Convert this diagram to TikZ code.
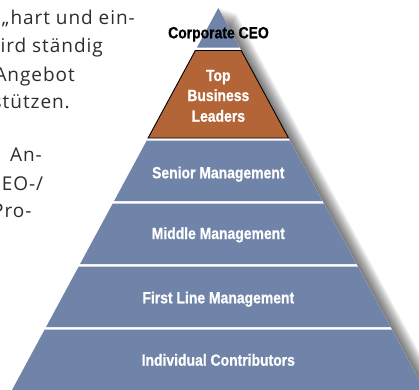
\documentclass[tikz,border=0pt]{standalone}
\usepackage{fontspec}
\newfontfamily\bodyfont[LetterSpace=5]{Open Sans}
\newfontfamily\pyrfont[FakeStretch=0.86, BoldFeatures={FakeBold=0.8}]{Liberation Sans}
\definecolor{pyrblue}{RGB}{111,132,168}
\definecolor{pyrorange}{RGB}{179,101,56}
\definecolor{bodytext}{RGB}{45,45,45}
\newcommand\pyrband[3]{%
  \path[#3] ({218.3-0.54*(#1-8)},#1) -- ({218.3+0.54*(#1-8)},#1)
    -- ({218.3+0.54*(#2-8)},#2) -- ({218.3-0.54*(#2-8)},#2) -- cycle;}
\tikzset{
  bodyline/.style={anchor=base east, inner sep=0pt,
    font=\bodyfont\fontsize{19}{19}\selectfont, text=bodytext},
  pyrlabel/.style={anchor=base, inner sep=0pt,
    font=\pyrfont\bfseries\fontsize{16.2}{16.2}\selectfont, text=white},
  blueband/.style={fill=pyrblue},
  orangeband/.style={fill=pyrorange, draw=black, line width=0.9pt, line join=miter},
  shadowlayer/.style={fill=black, opacity=0.04},
}
\begin{document}
\begin{tikzpicture}[x=1pt,y=-1pt]
\useasboundingbox (0,0) rectangle (419,389);
\clip (0,0) rectangle (419,389);
% soft shadow to the right of the pyramid
\foreach \i in {1,...,18}{
  \fill[shadowlayer] ({218.3+\i},{8+0.3*\i}) -- ({218.3+0.54*420+\i},{428+0.3*\i})
    -- ({218.3-0.54*420+\i},{428+0.3*\i}) -- cycle;
}
% white body of the pyramid (gaps between levels)
\fill[white] (218.3,8) -- ({218.3+0.54*420},428) -- ({218.3-0.54*420},428) -- cycle;
% levels
\path[blueband] (218.3,8) -- ({218.3+0.54*39.5},47.5) -- ({218.3-0.54*39.5},47.5) -- cycle;
\pyrband{50.5}{138}{orangeband}
\pyrband{140.5}{201}{blueband}
\pyrband{203.5}{264}{blueband}
\pyrband{266.5}{327}{blueband}
\pyrband{329.5}{420}{blueband}
% labels
\node[pyrlabel, text=black] (ceo) at (218.5,38.3) {Corporate CEO};
\node[pyrlabel] (top1) at (218.3,81) {Top};
\node[pyrlabel] (top2) at (218.3,101) {Business};
\node[pyrlabel] (top3) at (218.3,121.7) {Leaders};
\node[pyrlabel] (senior) at (218.3,178.3) {Senior Management};
\node[pyrlabel] (middle) at (218.3,239) {Middle Management};
\node[pyrlabel] (first) at (218.3,303.3) {First Line Management};
\node[pyrlabel] (indiv) at (218.3,365.7) {Individual Contributors};
% body text cut off by the left border
\node[bodyline] (t1) at (135,24) {„hart und ein-};
\node[bodyline] (t2) at (103,52.7) {ird ständig};
\node[bodyline] (t3) at (75,81) {Angebot};
\node[bodyline] (t4) at (70,108.3) {stützen.};
\node[bodyline] (t5) at (42,161.7) {An-};
\node[bodyline] (t6) at (43.3,190) {EO-/};
\node[bodyline] (t7) at (31.7,217.3) {Pro-};
\end{tikzpicture}
\end{document}
